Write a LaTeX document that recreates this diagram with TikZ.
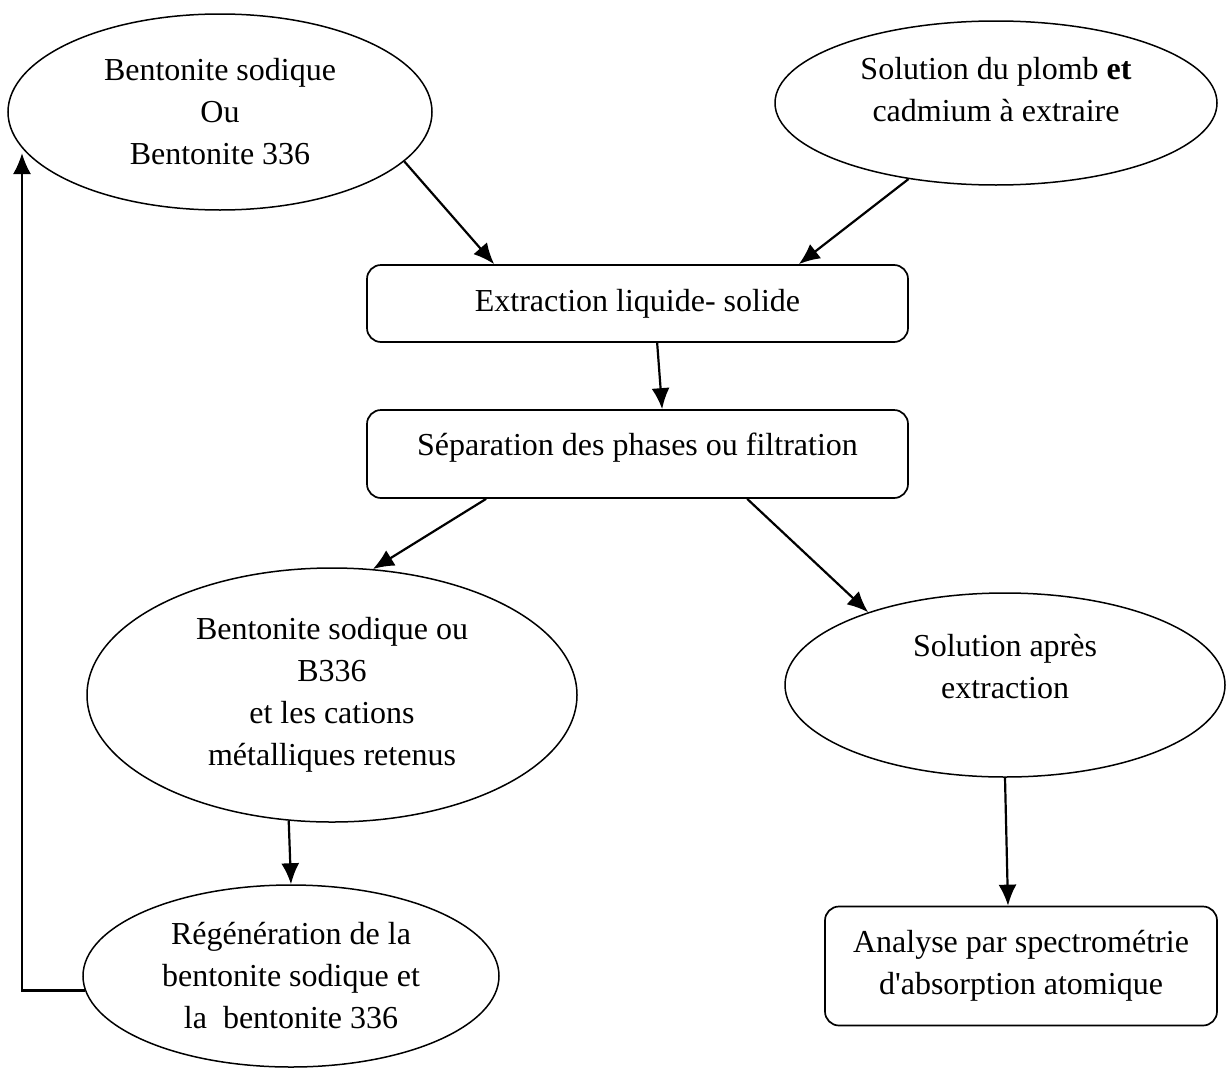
\documentclass[tikz,border=0pt]{standalone}
\usepackage{fontspec}
\setmainfont{Liberation Serif}
\usetikzlibrary{shapes.geometric,arrows.meta}
\begin{document}
\begin{tikzpicture}[x=1pt,y=-1pt,
    every node/.style={font=\fontsize{32}{42}\selectfont},
    ell/.style={draw,ellipse,line width=1.5pt,inner sep=0pt,align=center},
    boite/.style={draw,rounded corners=14pt,line width=1.7pt,inner sep=0pt,align=center},
    fl/.style={-{Latex[length=21pt,width=18pt]},line width=2.2pt}]
    \useasboundingbox (0,0) rectangle (1228,1068);
    \node[ell,minimum width=424pt,minimum height=196pt] (bent) at (220,112) {Bentonite sodique\\Ou\\Bentonite 336};
    \node[ell,minimum width=442pt,minimum height=164pt,text depth=27pt] (sol) at (996,103) {Solution du plomb \textbf{et}\\cadmium à extraire};
    \node[boite,minimum width=541pt,minimum height=77pt] (extr) at (637.5,303.5) {Extraction liquide- solide};
    \node[boite,minimum width=541pt,minimum height=88pt,text depth=19pt] (sep) at (637.5,454) {Séparation des phases ou filtration};
    \node[ell,minimum width=490pt,minimum height=254pt] (retenu) at (332,695) {Bentonite sodique ou\\B336\\et les cations\\métalliques retenus};
    \node[ell,minimum width=440pt,minimum height=184pt,text depth=37pt] (apres) at (1005,685) {Solution après\\extraction};
    \node[ell,minimum width=416pt,minimum height=182pt] (regen) at (291,976) {Régénération de la\\bentonite sodique et\\la\ \ bentonite 336};
    \node[boite,minimum width=392pt,minimum height=119pt] (analyse) at (1021,966) {Analyse par spectrométrie\\d\textquotesingle absorption atomique};
    \coordinate (retour) at (22,153);
    \draw[fl] (bent.-15) -- ([xshift=128pt]extr.north west);
    \draw[fl] (sol.221) -- ([xshift=-110pt]extr.north east);
    \draw[fl] ([xshift=291pt]extr.south west) -- ([xshift=296pt]sep.north west);
    \draw[fl] ([xshift=120pt]sep.south west) -- (retenu.72);
    \draw[fl] ([xshift=381pt]sep.south west) -- (apres.152);
    \draw[fl] (retenu.-109) -- (regen.north);
    \draw[fl] (apres.south) -- ([xshift=-13pt]analyse.north);
    \draw[fl] (regen.184) -| (retour);
\end{tikzpicture}
\end{document}
